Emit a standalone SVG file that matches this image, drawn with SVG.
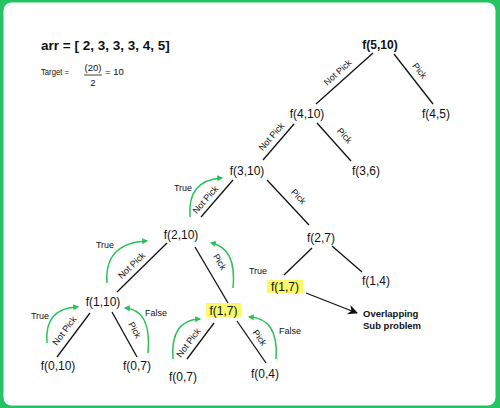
<svg xmlns="http://www.w3.org/2000/svg" width="500" height="408" viewBox="0 0 500 408">
<defs>
<style>
text{font-family:"Liberation Sans",Arial,sans-serif;fill:#111}
.n{font-size:12px;text-anchor:middle}
.b{font-weight:bold}
.l{font-size:9px;text-anchor:middle}
.e{stroke:#111;stroke-width:1.3;fill:none}
.g{stroke:#2cc05a;stroke-width:1.5;fill:none;marker-end:url(#gh)}
.hl{fill:#fbf86a}
</style>
<marker id="gh" viewBox="0 0 10 10" refX="8" refY="5" markerWidth="6" markerHeight="6" orient="auto" markerUnits="userSpaceOnUse">
<path d="M0,0 L10,5 L0,10 z" fill="#2cc05a"/>
</marker>
<marker id="bh" viewBox="0 0 10 10" refX="9" refY="5" markerWidth="10" markerHeight="10" orient="auto" markerUnits="userSpaceOnUse">
<path d="M0,0 L10,5 L0,10 L3,5 z" fill="#111"/>
</marker>
</defs>
<rect x="0" y="0" width="500" height="408" fill="#25c463"/>
<rect x="3.5" y="2.5" width="492" height="403" rx="8" fill="#fff"/>

<g id="header">
<text x="41" y="50" style="font-size:13.5px;font-weight:bold">arr = [ 2, 3, 3, 3, 4, 5]</text>
<text x="41" y="75" style="font-size:9.5px" textLength="28" lengthAdjust="spacingAndGlyphs">Target =</text>
<text x="93" y="71" style="font-size:9.5px;text-anchor:middle">(20)</text>
<line x1="84" y1="75" x2="102" y2="75" stroke="#111" stroke-width="0.8"/>
<text x="93" y="86" style="font-size:9.5px;text-anchor:middle">2</text>
<text x="105" y="75" style="font-size:9.5px">= 10</text>
</g>

<g id="connectors">
<line class="e" x1="373" y1="53" x2="316" y2="104"/>
<line class="e" x1="394" y1="54" x2="433" y2="104"/>
<line class="e" x1="294" y1="124" x2="263" y2="160"/>
<line class="e" x1="317" y1="123" x2="351" y2="161"/>
<line class="e" x1="233" y1="180" x2="201" y2="217"/>
<line class="e" x1="267" y1="180" x2="309" y2="225"/>
<line class="e" x1="167" y1="243" x2="117" y2="292"/>
<line class="e" x1="195" y1="247" x2="228" y2="303"/>
<line class="e" x1="312" y1="248" x2="284" y2="275"/>
<line class="e" x1="332" y1="246" x2="362" y2="272"/>
<line class="e" x1="90" y1="313" x2="57" y2="357"/>
<line class="e" x1="112" y1="312" x2="137" y2="357"/>
<line class="e" x1="214" y1="323" x2="187" y2="359"/>
<line class="e" x1="237" y1="321" x2="266" y2="363"/>
<line class="e" x1="306" y1="293" x2="357" y2="313" marker-end="url(#bh)"/>

<text class="l" transform="translate(339,74) rotate(-42)" dy="1">Not Pick</text>
<text class="l" transform="translate(418,72) rotate(52)" dy="1">Pick</text>
<text class="l" transform="translate(273,138) rotate(-49)" dy="1">Not Pick</text>
<text class="l" transform="translate(343,137) rotate(48)" dy="1">Pick</text>
<text class="l" transform="translate(207,201) rotate(-49)" dy="1">Not Pick</text>
<text class="l" transform="translate(297,198) rotate(47)" dy="1">Pick</text>
<text class="l" transform="translate(133,267) rotate(-44)" dy="1">Not Pick</text>
<text class="l" transform="translate(218,263) rotate(59)" dy="1">Pick</text>
<text class="l" transform="translate(66,332) rotate(-53)" dy="1">Not Pick</text>
<text class="l" transform="translate(133,331) rotate(61)" dy="1">Pick</text>
<text class="l" transform="translate(190,344) rotate(-53)" dy="1">Not Pick</text>
<text class="l" transform="translate(258,339) rotate(55)" dy="1">Pick</text>

<path class="g" d="M190,217 Q187,180 222,178"/>
<path class="g" d="M107,283 Q104,243 147,241"/>
<path class="g" d="M47,343 Q44,308 78,307"/>
<path class="g" d="M148,353 Q152,310 125,308"/>
<path class="g" d="M233,288 Q237,248 211,243"/>
<path class="g" d="M173,359 Q170,320 200,319"/>
<path class="g" d="M276,359 Q279,318 249,317"/>

<text class="l" x="183" y="191">True</text>
<text class="l" x="105" y="248">True</text>
<text class="l" x="40" y="319">True</text>
<text class="l" x="258" y="274">True</text>
<text class="l" x="156" y="316">False</text>
<text class="l" x="290" y="334">False</text>
</g>

<g id="n510"><text class="n b" x="380" y="49">f(5,10)</text></g>
<g id="n410"><text class="n" x="307" y="118">f(4,10)</text></g>
<g id="n45"><text class="n" x="436" y="118">f(4,5)</text></g>
<g id="n310"><text class="n" x="247" y="175">f(3,10)</text></g>
<g id="n36"><text class="n" x="366" y="175">f(3,6)</text></g>
<g id="n210"><text class="n" x="181" y="239">f(2,10)</text></g>
<g id="n27"><text class="n" x="321" y="242">f(2,7)</text></g>
<g id="n110"><text class="n" x="103" y="306">f(1,10)</text></g>
<g id="n17a"><rect class="hl" x="206" y="303" width="35" height="14"/><text class="n" x="223.5" y="315">f(1,7)</text></g>
<g id="n17b"><rect class="hl" x="267" y="280" width="36" height="13"/><text class="n" x="285" y="291">f(1,7)</text></g>
<g id="n14"><text class="n" x="376" y="285">f(1,4)</text></g>
<g id="n010"><text class="n" x="58" y="370">f(0,10)</text></g>
<g id="n07a"><text class="n" x="137" y="370">f(0,7)</text></g>
<g id="n07b"><text class="n" x="183" y="381">f(0,7)</text></g>
<g id="n04"><text class="n" x="265" y="378">f(0,4)</text></g>
<g id="note">
<text x="363" y="317" style="font-size:9.5px;font-weight:bold">Overlapping</text>
<text x="363" y="329" style="font-size:9.5px;font-weight:bold">Sub problem</text>
</g>
</svg>
